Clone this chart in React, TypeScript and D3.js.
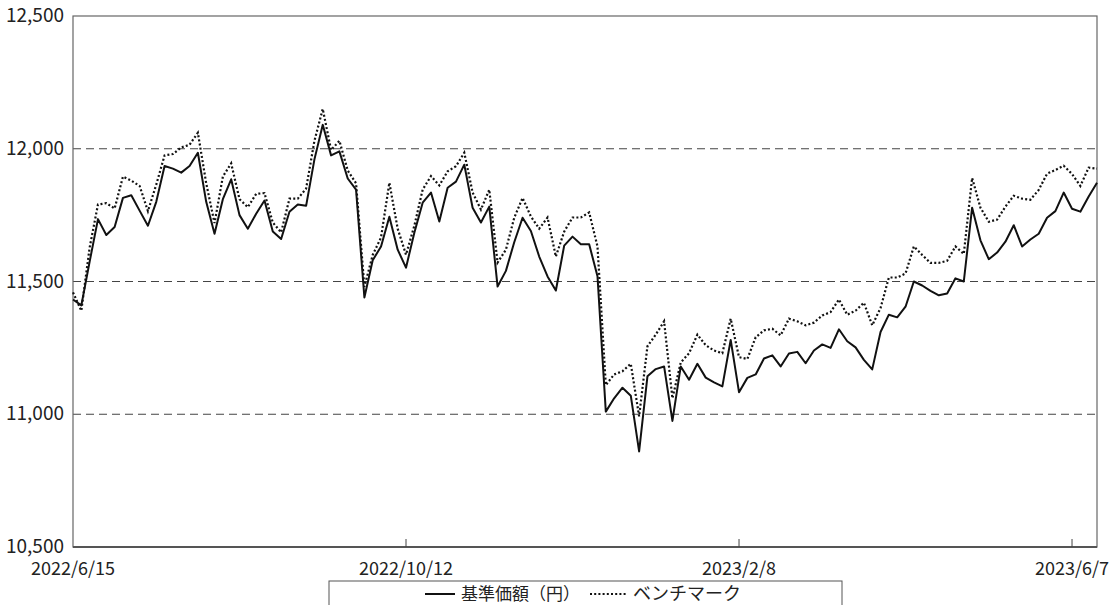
import * as d3 from "d3";

// 基準価額 (fund NAV) and benchmark, sampled every 2 business days
const navValues = [
  11432, 11410, 11575, 11735, 11675, 11705, 11815, 11825, 11767, 11710,
  11800, 11935, 11925, 11910, 11935, 11985, 11800, 11680, 11810, 11885,
  11750, 11699, 11755, 11805, 11688, 11660, 11763, 11790, 11785, 11960,
  12090, 11975, 11990, 11888, 11846, 11440, 11580, 11632, 11744, 11620,
  11552, 11684, 11797, 11835, 11726, 11853, 11876, 11940, 11778, 11722,
  11782, 11481, 11540, 11648, 11740, 11690, 11594, 11519, 11466, 11635,
  11669, 11640, 11640, 11520, 11010, 11060, 11100, 11070, 10860, 11143,
  11170, 11180, 10975, 11180, 11130, 11190, 11138, 11120, 11105, 11280,
  11083, 11137, 11150, 11210, 11222, 11180, 11229, 11235, 11192, 11240,
  11263, 11250, 11320, 11275, 11252, 11205, 11169, 11310, 11375, 11365,
  11405, 11500, 11485, 11465, 11448, 11455, 11512, 11500, 11778, 11655,
  11584, 11609, 11650, 11712, 11632, 11658, 11680, 11740, 11765, 11835,
  11774, 11763, 11820, 11872,
];

const benchmarkValues = [
  11459, 11390, 11628, 11790, 11795, 11775, 11895, 11880, 11860, 11765,
  11865, 11975, 11980, 12005, 12015, 12060, 11870, 11720, 11895, 11945,
  11810, 11780, 11830, 11833, 11722, 11685, 11812, 11812, 11850, 12030,
  12150, 11995, 12030, 11918, 11870, 11480, 11600, 11666, 11872, 11699,
  11601, 11710, 11846, 11897, 11862, 11915, 11934, 11985, 11835, 11771,
  11846, 11571, 11620, 11740, 11815, 11745, 11699, 11741, 11594, 11688,
  11741, 11741, 11760, 11632, 11110, 11150, 11162, 11190, 10992, 11256,
  11300, 11350, 11060, 11195, 11230, 11300, 11260, 11240, 11230, 11360,
  11215, 11208, 11290, 11316, 11322, 11297, 11360, 11350, 11335, 11345,
  11372, 11385, 11432, 11375, 11390, 11420, 11335, 11400, 11515, 11515,
  11530, 11632, 11600, 11570, 11570, 11578, 11632, 11604, 11890, 11778,
  11725, 11733, 11782, 11823, 11812, 11808, 11845, 11906, 11920, 11936,
  11905, 11860, 11929, 11925,
];

const xTickIndex = [0, 40, 80, 120];
const xTickLabels = ["2022/6/15", "2022/10/12", "2023/2/8", "2023/6/7"];
const yTicks = [10500, 11000, 11500, 12000, 12500];
const gridValues = [11000, 11500, 12000];
const legendLabels = ["基準価額（円）", "ベンチマーク"];

const width = 1112;
const height = 605;
const margin = { top: 16, right: 15, bottom: 58, left: 73 };
const font = "'Noto Sans CJK JP', 'Noto Sans', sans-serif";

export default function App() {
  const x = d3
    .scaleLinear()
    .domain([0, navValues.length - 1])
    .range([margin.left, width - margin.right]);
  const y = d3
    .scaleLinear()
    .domain([10500, 12500])
    .range([height - margin.bottom, margin.top]);

  const line = d3
    .line<number>()
    .x((_, i) => x(i))
    .y((d) => y(d));

  const x0 = margin.left;
  const x1 = width - margin.right;
  const y0 = margin.top;
  const y1 = height - margin.bottom;

  return (
    <svg
      width={width}
      height={height}
      style={{ position: "absolute", left: 0, top: 0, background: "#fff" }}
      fontFamily={font}
    >
      {/* dashed grid */}
      {gridValues.map((v) => (
        <line
          key={v}
          x1={x0}
          x2={x1}
          y1={y(v)}
          y2={y(v)}
          stroke="#444"
          strokeWidth={1.2}
          strokeDasharray="8,5"
        />
      ))}

      {/* frame */}
      <rect
        x={x0}
        y={y0}
        width={x1 - x0}
        height={y1 - y0}
        fill="none"
        stroke="#666"
        strokeWidth={1.2}
      />
      <line x1={x0} x2={x1} y1={y1} y2={y1} stroke="#555" strokeWidth={1.8} />

      {/* x ticks */}
      {xTickIndex.map((t, i) => (
        <g key={t}>
          {i > 0 && (
            <line x1={x(t)} x2={x(t)} y1={y1} y2={y1 - 8} stroke="#444" strokeWidth={1} />
          )}
          <text
            x={x(t)}
            y={y1 + 28}
            textAnchor="middle"
            fontSize={18}
            fill="#222"
          >
            {xTickLabels[i]}
          </text>
        </g>
      ))}

      {/* y labels */}
      {yTicks.map((v) => (
        <text
          key={v}
          x={x0 - 9}
          y={y(v)}
          dy="0.32em"
          textAnchor="end"
          fontSize={19}
          fill="#222"
        >
          {d3.format(",")(v)}
        </text>
      ))}

      {/* series */}
      <path
        d={line(benchmarkValues) ?? ""}
        fill="none"
        stroke="#111"
        strokeWidth={2.2}
        strokeDasharray="2,2.2"
      />
      <path
        d={line(navValues) ?? ""}
        fill="none"
        stroke="#111"
        strokeWidth={2}
        strokeLinejoin="round"
      />

      {/* legend */}
      <rect x={329} y={581} width={513} height={40} fill="#fff" stroke="#555" strokeWidth={1} />
      <line x1={425} x2={455} y1={594} y2={594} stroke="#111" strokeWidth={2} />
      <text x={461} y={594} dy="0.36em" fontSize={17} fill="#222">
        {legendLabels[0]}
      </text>
      <line
        x1={590}
        x2={627}
        y1={594}
        y2={594}
        stroke="#111"
        strokeWidth={2.2}
        strokeDasharray="2,2.2"
      />
      <text x={633} y={594} dy="0.36em" fontSize={18} fill="#222">
        {legendLabels[1]}
      </text>
    </svg>
  );
}
